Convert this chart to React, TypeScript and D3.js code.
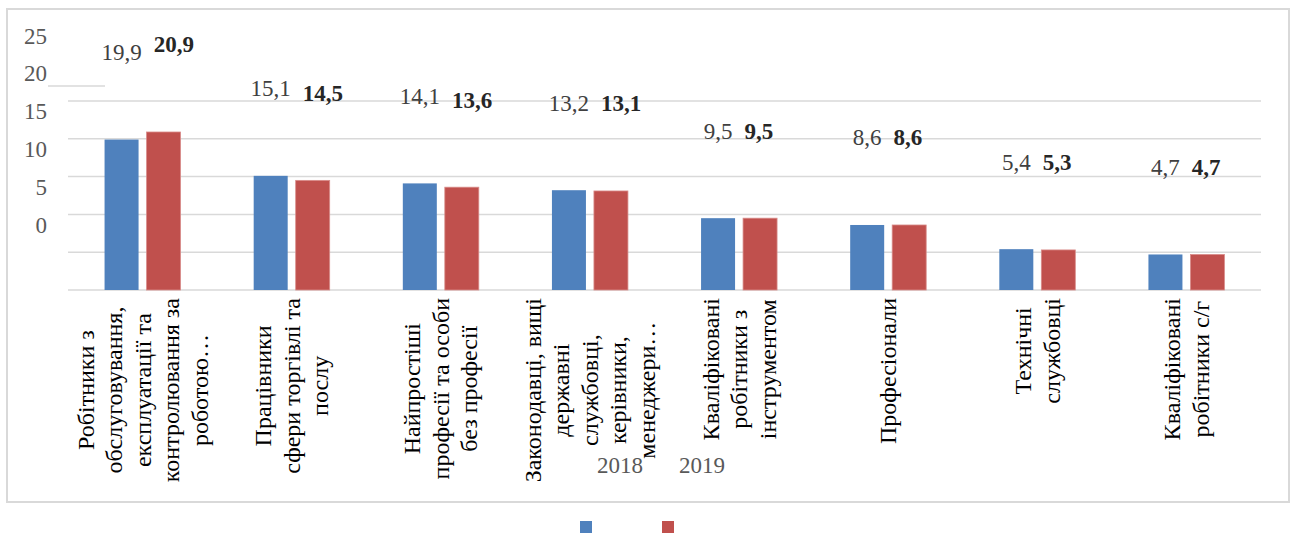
import React, { useEffect, useRef } from 'react';
import * as d3 from 'd3';

// categories, line breaks as in the original axis labels
const categories = [
  'Робітники з\nобслуговування,\nексплуатації та\nконтролювання за\nроботою…',
  'Працівники\nсфери торгівлі та\nпослу',
  'Найпростіші\nпрофесії та особи\nбез професії',
  'Законодавці, вищі\nдержавні\nслужбовці,\nкерівники,\nменеджери…',
  'Кваліфіковані\nробітники з\nінструментом',
  'Професіонали',
  'Технічні\nслужбовці',
  'Кваліфіковані\nробітники с/г',
];
const years = ['2018', '2019'];
const values2018 = [19.9, 15.1, 14.1, 13.2, 9.5, 8.6, 5.4, 4.7];
const values2019 = [20.9, 14.5, 13.6, 13.1, 9.5, 8.6, 5.3, 4.7];
const yTicks = [0, 5, 10, 15, 20, 25];
const colors = ['#4f81bd', '#c0504d'];

export default function App() {
  const ref = useRef<SVGSVGElement>(null);

  useEffect(() => {
    const svg = d3.select(ref.current);
    svg.selectAll('*').remove();

    const W = 1296, H = 534;
    const plot = { left: 68, right: 1261, top: 101, bottom: 290 };

    svg.append('rect').attr('width', W).attr('height', H).attr('fill', '#fff');
    // chart frame
    svg.append('rect')
      .attr('x', 7).attr('y', 9).attr('width', 1282).attr('height', 493)
      .attr('fill', 'none').attr('stroke', '#d9d9d9').attr('stroke-width', 2);

    const fmt = (v: number) => v.toFixed(1).replace('.', ',');

    const x0 = d3.scaleBand().domain(categories).range([plot.left, plot.right]);
    const x1 = d3.scaleBand().domain(years).range([0, 76]).paddingInner(8 / 42);
    const y = d3.scaleLinear().domain([0, 25]).range([plot.bottom, plot.top]);

    // gridlines
    svg.append('g').selectAll('line').data(yTicks).join('line')
      .attr('x1', plot.left).attr('x2', plot.right)
      .attr('y1', d => y(d)).attr('y2', d => y(d))
      .attr('stroke', '#d9d9d9').attr('stroke-width', 1.5);

    // stray segment near the top-left
    svg.append('line')
      .attr('x1', 48).attr('x2', 105).attr('y1', 86).attr('y2', 86)
      .attr('stroke', '#d9d9d9').attr('stroke-width', 1.5);

    // y tick labels (drawn shifted up, like the source)
    svg.append('g').selectAll('text').data(yTicks).join('text')
      .attr('x', 47).attr('y', d => y(d) - 65)
      .attr('text-anchor', 'end').attr('dominant-baseline', 'central')
      .style('font-size', '23px').attr('fill', '#595959')
      .text(d => d);

    const series = [values2018, values2019];
    const groupStart = (c: string) => (x0(c) as number) + x0.bandwidth() / 2 - 38;

    // bars
    series.forEach((vals, si) => {
      svg.append('g').selectAll('rect').data(categories).join('rect')
        .attr('x', c => groupStart(c) + (x1(years[si]) as number))
        .attr('y', (c, i) => y(vals[i]))
        .attr('width', x1.bandwidth())
        .attr('height', (c, i) => plot.bottom - y(vals[i]))
        .attr('fill', colors[si])
        .attr('stroke', si === 1 ? '#d98c8a' : 'none')
        .attr('stroke-width', si === 1 ? 0.8 : 0);
    });

    // data labels
    categories.forEach((c, i) => {
      const cx = groupStart(c) + (x1('2018') as number) + x1.bandwidth() / 2;
      const t1 = svg.append('text')
        .attr('x', cx).attr('y', y(values2018[i]) - 87)
        .attr('text-anchor', 'middle').attr('dominant-baseline', 'central')
        .style('font-size', '23px').attr('fill', '#404040')
        .text(fmt(values2018[i]));
      const w = (t1.node() as SVGTextElement).getComputedTextLength();
      svg.append('text')
        .attr('x', cx + w / 2 + 12).attr('y', y(values2019[i]) - 87)
        .attr('text-anchor', 'start').attr('dominant-baseline', 'central')
        .style('font-size', '23px').style('font-weight', 'bold')
        .attr('fill', '#262626')
        .text(fmt(values2019[i]));
    });

    // category labels, rotated
    const lineStep = 28.5;
    categories.forEach(c => {
      const lines = c.split('\n');
      const cx = (x0(c) as number) + x0.bandwidth() / 2;
      const g = svg.append('g');
      const texts = lines.map(l => g.append('text')
        .attr('text-anchor', 'middle').attr('dominant-baseline', 'central')
        .style('font-size', '24px').attr('fill', '#000')
        .text(l));
      const maxLen = d3.max(texts, t => (t.node() as SVGTextElement).getComputedTextLength()) || 0;
      const cy = 298 + maxLen / 2;
      texts.forEach((t, i) => {
        const lx = cx + (i - (lines.length - 1) / 2) * lineStep;
        t.attr('transform', `translate(${lx},${cy}) rotate(-90)`);
      });
    });

    // legend: squares at the bottom, labels drawn higher up
    const lx = d3.scaleOrdinal<string, number>().domain(years).range([580, 662]);
    years.forEach((yr, i) => {
      svg.append('rect')
        .attr('x', lx(yr)).attr('y', 521).attr('width', 12).attr('height', 12)
        .attr('fill', colors[i]);
      svg.append('text')
        .attr('x', lx(yr) + 17).attr('y', 465)
        .attr('dominant-baseline', 'central')
        .style('font-size', '23px').attr('fill', '#595959')
        .text(yr);
    });
  }, []);

  return (
    <svg
      ref={ref}
      width={1296}
      height={534}
      style={{ position: 'absolute', left: 0, top: 0, display: 'block' }}
    />
  );
}
